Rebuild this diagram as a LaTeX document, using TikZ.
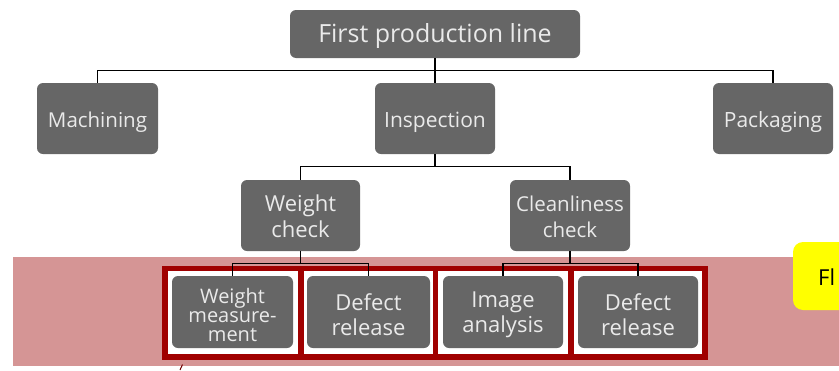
\documentclass[tikz,border=0pt]{standalone}
\usepackage{fontspec}
\setmainfont{Open Sans}
\definecolor{boxgray}{HTML}{666666}
\definecolor{boxtext}{HTML}{EAEAEA}
\definecolor{bandpink}{HTML}{D59595}
\definecolor{framered}{HTML}{A00000}
\definecolor{hiyellow}{HTML}{FFFF00}
\tikzset{
  box/.style={rounded corners=6pt, fill=boxgray, inner sep=0pt},
  lbl/.style={text=boxtext, align=center, inner sep=0pt},
  conn/.style={draw=black, line width=1.4pt},
  redframe/.style={draw=framered, line width=5.5pt},
}
\begin{document}
\begin{tikzpicture}[x=1pt,y=-1pt]
\useasboundingbox (0,0) rectangle (839,370);
\clip (0,0) rectangle (839,370);
% band
\fill[bandpink] (13,257) rectangle (839,366);
% yellow box (cut off)
\node[fill=hiyellow, rounded corners=10pt, minimum width=70pt, minimum height=68pt, inner sep=0pt] (ybox) at (828,276) {};
\node[anchor=west, inner sep=0pt, font=\fontsize{22}{26}\selectfont] (ytext) at (818,277) {Fl};
% red frame
\fill[white] (165,268.5) rectangle (705,357);
\draw[redframe] (165,268.5) rectangle (705,357);
\draw[redframe] (301,268.5) -- (301,357);
\draw[redframe] (435.5,268.5) -- (435.5,357);
\draw[redframe] (571,268.5) -- (571,357);
\draw[framered!70!black, line width=1pt] (180,370) -- (182.5,364.5);
% boxes
\node[box, minimum width=290pt, minimum height=48pt] (top) at (435,34) {};
\node[box, minimum width=121pt, minimum height=71pt] (mach) at (97.5,118.5) {};
\node[box, minimum width=120pt, minimum height=71pt] (insp) at (435,118.5) {};
\node[box, minimum width=120pt, minimum height=71pt] (pack) at (773,118.5) {};
\node[box, minimum width=119pt, minimum height=71pt] (wc) at (300.5,215.5) {};
\node[box, minimum width=120pt, minimum height=71pt] (cc) at (570,215.5) {};
\node[box, minimum width=121pt, minimum height=72pt] (b1) at (232.5,312) {};
\node[box, minimum width=123pt, minimum height=72pt] (b2) at (368.5,312) {};
\node[box, minimum width=120pt, minimum height=72pt] (b3) at (503,312) {};
\node[box, minimum width=120pt, minimum height=72pt] (b4) at (638,312) {};
% labels
\node[lbl, font=\fontsize{25}{30}\selectfont] (topL) at ([yshift=-2pt]top.center) {First production line};
\node[lbl, font=\fontsize{20.5}{25}\selectfont] (machL) at ([yshift=-3.5pt]mach.center) {Machining};
\node[lbl, font=\fontsize{21}{25}\selectfont] (inspL) at ([yshift=-3.5pt]insp.center) {Inspection};
\node[lbl, font=\fontsize{21}{25}\selectfont] (packL) at ([yshift=-3.5pt]pack.center) {Packaging};
\node[lbl, font=\fontsize{22}{26}\selectfont] (wcL) at ([yshift=-1pt]wc.center) {Weight\\check};
\node[lbl, font=\fontsize{20.5}{26}\selectfont] (ccL) at ([yshift=-1pt]cc.center) {Cleanliness\\check};
\node[lbl, font=\fontsize{20}{19}\selectfont] (b1L) at ([yshift=-3pt]b1.center) {Weight\\measure-\\ment};
\node[lbl, font=\fontsize{22}{25}\selectfont] (b2L) at ([yshift=-2.5pt]b2.center) {Defect\\release};
\node[lbl, font=\fontsize{22}{25}\selectfont] (b3L) at ([yshift=-2.5pt]b3.center) {Image\\analysis};
\node[lbl, font=\fontsize{22}{25}\selectfont] (b4L) at ([yshift=-2.5pt]b4.center) {Defect\\release};
% connectors
\draw[conn] (top.south) -- ++(0,12) -| (mach.north);
\draw[conn] (top.south) -- ++(0,12) -| (pack.north);
\draw[conn] (top.south) -- (insp.north);
\draw[conn] (insp.south) -- ++(0,12) -| (wc.north);
\draw[conn] (insp.south) -- ++(0,12) -| (cc.north);
\draw[conn] (wc.south) -- ++(0,12) -| (b1.north);
\draw[conn] (wc.south) -- ++(0,12) -| (b2.north);
\draw[conn] (cc.south) -- ++(0,12) -| (b3.north);
\draw[conn] (cc.south) -- ++(0,12) -| (b4.north);
\end{tikzpicture}
\end{document}
